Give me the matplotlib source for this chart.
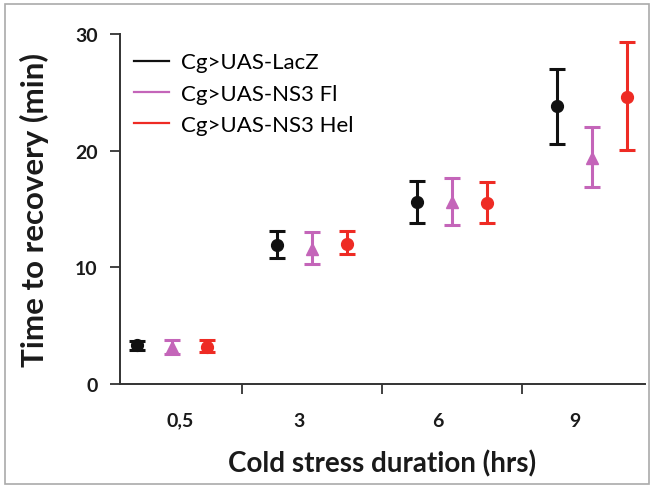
import numpy as np
import matplotlib
matplotlib.use("Agg")
import matplotlib.pyplot as plt
from matplotlib.lines import Line2D
from matplotlib.patches import Rectangle

plt.rcParams['font.family'] = ['Lato', 'DejaVu Sans']

durations = ['0,5', '3', '6', '9']
genotypes = ['Cg>UAS-LacZ', 'Cg>UAS-NS3 Fl', 'Cg>UAS-NS3 Hel']
colors = ['#111111', '#C465B9', '#EE2B24']
markers = ['o', '^', 'o']

# mean, lower end and upper end of the error bar
means = [[3.3, 11.9, 15.6, 23.8],
         [3.2, 11.6, 15.6, 19.4],
         [3.2, 12.0, 15.5, 24.6]]
lows = [[2.9, 10.8, 13.8, 20.6],
        [2.6, 10.3, 13.6, 16.9],
        [2.7, 11.1, 13.8, 20.1]]
highs = [[3.7, 13.1, 17.4, 27.0],
         [3.8, 13.0, 17.7, 22.0],
         [3.8, 13.1, 17.3, 29.3]]

fig = plt.figure(figsize=(6.52, 4.89), dpi=100)
ax = fig.add_axes([0.184, 0.213, 0.805, 0.715])

x = np.arange(len(durations))
offsets = [-0.25, 0, 0.25]
for i in range(3):
    m = np.array(means[i])
    lo = m - np.array(lows[i])
    hi = np.array(highs[i]) - m
    ax.errorbar(x + offsets[i], m, yerr=[lo, hi], fmt=markers[i], color=colors[i],
                ms=8.5, elinewidth=2.2, capsize=5.5, capthick=2.2, zorder=3)

ax.set_xlim(-0.37, 3.38)
ax.set_ylim(0, 30)
ax.set_yticks([0, 10, 20, 30])
ax.set_xticks([0.5, 1.5, 2.5])
ax.set_xticklabels([])
ax.set_xticks([0.06, 0.91, 1.9, 2.88], minor=True)
ax.set_xticklabels(durations, minor=True)
ax.tick_params(axis='x', which='minor', length=0, pad=20)
ax.tick_params(axis='x', which='major', length=7, width=1.3, direction='out', color='#333333')
ax.tick_params(axis='y', length=7, width=1.3, color='#333333', pad=9)
for lab in ax.get_xticklabels(minor=True) + ax.get_yticklabels():
    lab.set_fontsize(14)
    lab.set_fontweight('bold')
    lab.set_color('#1a1a1a')

for s in ['top', 'right']:
    ax.spines[s].set_visible(False)
for s in ['left', 'bottom']:
    ax.spines[s].set_linewidth(1.4)
    ax.spines[s].set_color('#333333')

ax.set_xlabel('Cold stress duration (hrs)', fontsize=20, fontweight='bold', labelpad=15, color='#1a1a1a')
ax.set_ylabel('Time to recovery (min)', fontsize=22.5, fontweight='bold', labelpad=19, color='#1a1a1a')

handles = [Line2D([], [], color=c, lw=1.6) for c in colors]
ax.legend(handles, genotypes, loc='upper left', bbox_to_anchor=(-0.012, 1.005), frameon=False,
          fontsize=16, handlelength=1.6, handletextpad=0.55, labelspacing=0.5)

fig.add_artist(Rectangle((5 / 652, 4 / 489), 644 / 652, 480 / 489, transform=fig.transFigure,
                         fill=False, edgecolor='#AAAAAA', lw=1.2))

fig.savefig('out.png', dpi=100)
